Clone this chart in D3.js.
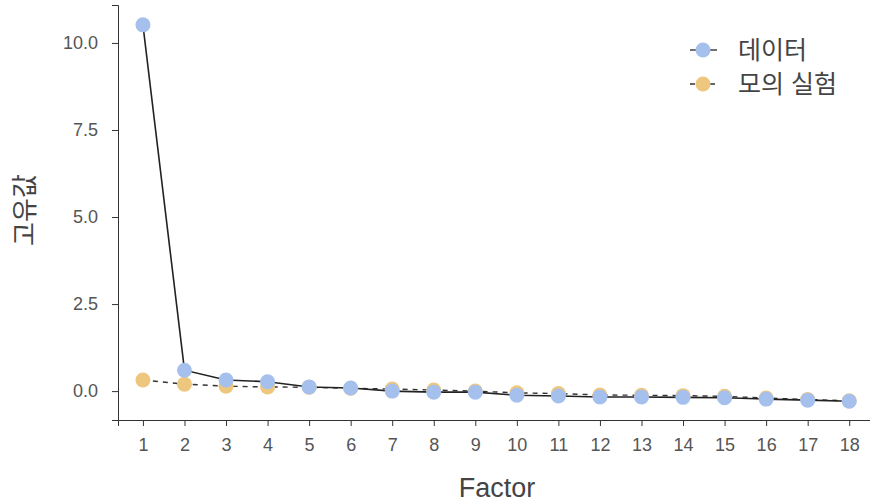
<!DOCTYPE html>
<html>
<head>
<meta charset="utf-8">
<script src="https://cdn.jsdelivr.net/npm/d3@7"></script>
<style>
  body { margin: 0; background: #fff; }
  text { font-family: "Liberation Sans", "Noto Sans CJK KR", sans-serif; }
</style>
</head>
<body>
<div id="chart"></div>
<script>
const factors = d3.range(1, 19);
const dataValues = [10.52, 0.6, 0.32, 0.27, 0.12, 0.09, 0.0, -0.03, -0.03, -0.12, -0.14, -0.17, -0.17, -0.18, -0.19, -0.23, -0.26, -0.29];
const simValues = [0.32, 0.2, 0.14, 0.12, 0.11, 0.08, 0.06, 0.03, 0.0, -0.05, -0.07, -0.11, -0.12, -0.13, -0.15, -0.2, -0.24, -0.28];
const yTicks = [0, 2.5, 5, 7.5, 10];
const seriesNames = ['데이터', '모의 실험'];
const seriesColors = ['#a6c0ee', '#eec77f'];

const W = 870, H = 504;
const svg = d3.select('#chart').append('svg')
    .attr('width', W)
    .attr('height', H);

const x = d3.scaleLinear().domain([0.4, 18.5]).range([118, 870]);
const y = d3.scaleLinear().domain([-0.83, 11.09]).range([420, 5]);

// axes
const xAxis = svg.append('g')
    .attr('transform', 'translate(0,420)')
    .call(d3.axisBottom(x).tickValues(factors).tickFormat(d3.format('d')).tickSize(6).tickPadding(12));
const yAxis = svg.append('g')
    .attr('transform', 'translate(118,0)')
    .call(d3.axisLeft(y).tickValues(yTicks).tickFormat(d3.format('.1f')).tickSize(6).tickPadding(14));

[xAxis, yAxis].forEach(a => {
    a.select('.domain').attr('stroke', '#333').attr('stroke-width', 1);
    a.selectAll('.tick line').attr('stroke', '#333');
    a.selectAll('.tick text').attr('fill', '#555').attr('font-size', 18);
});

// axis titles
svg.append('text')
    .attr('x', 497).attr('y', 497)
    .attr('text-anchor', 'middle')
    .attr('font-size', 27)
    .attr('fill', '#444')
    .text('Factor');
svg.append('text')
    .attr('transform', 'translate(34,210) rotate(-90)')
    .attr('text-anchor', 'middle')
    .attr('font-size', 26)
    .attr('fill', '#444')
    .text('고유값');

// lines
const line = d3.line()
    .x((d, i) => x(factors[i]))
    .y(d => y(d));

svg.append('path')
    .datum(simValues)
    .attr('fill', 'none')
    .attr('stroke', '#333')
    .attr('stroke-width', 1.4)
    .attr('stroke-dasharray', '5,5')
    .attr('d', line);
svg.append('path')
    .datum(dataValues)
    .attr('fill', 'none')
    .attr('stroke', '#222')
    .attr('stroke-width', 1.6)
    .attr('d', line);

// points
svg.append('g').selectAll('circle')
    .data(simValues)
    .join('circle')
    .attr('cx', (d, i) => x(factors[i]))
    .attr('cy', d => y(d))
    .attr('r', 7.5)
    .attr('fill', seriesColors[1]);
svg.append('g').selectAll('circle')
    .data(dataValues)
    .join('circle')
    .attr('cx', (d, i) => x(factors[i]))
    .attr('cy', d => y(d))
    .attr('r', 7.5)
    .attr('fill', seriesColors[0]);

// legend
const legend = svg.append('g').attr('transform', 'translate(690,50)');
seriesNames.forEach((name, i) => {
    const g = legend.append('g').attr('transform', `translate(0,${i * 34})`);
    g.append('line')
        .attr('x1', 0).attr('x2', 27)
        .attr('stroke', '#333')
        .attr('stroke-width', 1.4)
        .attr('stroke-dasharray', i === 1 ? '5,5' : null);
    g.append('circle')
        .attr('cx', 13).attr('r', 7.5)
        .attr('fill', seriesColors[i]);
    g.append('text')
        .attr('x', 48).attr('y', 0)
        .attr('dy', '0.35em')
        .attr('font-size', 25)
        .attr('fill', '#444')
        .text(name);
});
</script>
</body>
</html>
